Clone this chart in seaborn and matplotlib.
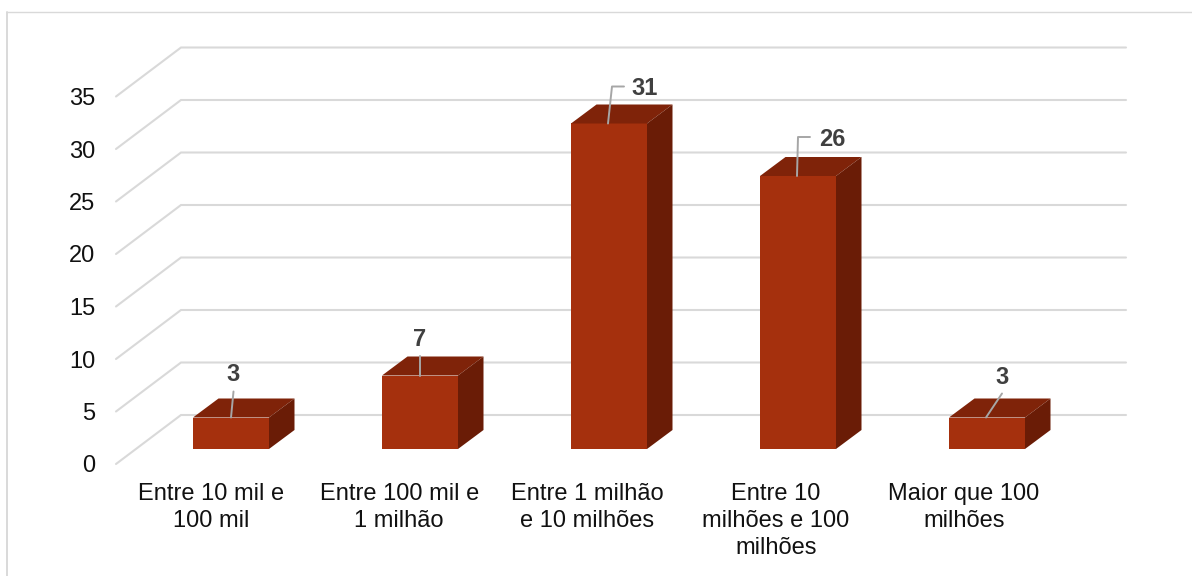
import matplotlib
matplotlib.use("Agg")
import matplotlib.pyplot as plt
from matplotlib.patches import Polygon
from matplotlib.lines import Line2D
import pandas as pd
import seaborn as sns

# Survey counts per size band
categories = [
    "Entre 10 mil e\n100 mil",
    "Entre 100 mil e\n1 milhão",
    "Entre 1 milhão\ne 10 milhões",
    "Entre 10\nmilhões e 100\nmilhões",
    "Maior que 100\nmilhões",
]
values = [3, 7, 31, 26, 3]
y_ticks = [0, 5, 10, 15, 20, 25, 30, 35]

FRONT = "#A5300D"
TOP = "#7F2309"
SIDE = "#6A1C06"
GRID = "#D9D9D9"
LEADER = "#A6A6A6"

W, H = 1192, 576
LEFT, RIGHT, BOTTOM, TOP_PX = 116, 1126, 464, 40   # plot area in pixels
PX_PER_CAT, PX_PER_UNIT = 189.0, 10.5
FIRST_CENTER = 231


def px_x(p):
    return p / PX_PER_CAT


def px_y(p):
    return p / PX_PER_UNIT


sns.set_theme(style="white")
plt.rcParams["font.family"] = ["Liberation Sans", "DejaVu Sans"]

fig = plt.figure(figsize=(W / 100, H / 100), dpi=100, facecolor="white")
ax = fig.add_axes([LEFT / W, 1 - BOTTOM / H, (RIGHT - LEFT) / W, (BOTTOM - TOP_PX) / H])
ax.patch.set_alpha(0)

df = pd.DataFrame({"faixa": categories, "n": values})
base = px_y(15)  # bars stand mid-way across the floor depth
sns.barplot(data=df, x="faixa", y="n", color=FRONT, saturation=1, width=76 / 189,
            bottom=base, ax=ax, zorder=3, linewidth=0)

ax.set_xlim(px_x(LEFT - FIRST_CENTER), px_x(RIGHT - FIRST_CENTER))
ax.set_ylim(0, px_y(BOTTOM - TOP_PX))

# Back wall and side wall gridlines
wall_dx, wall_dy = px_x(65), px_y(49)
x_wall = ax.get_xlim()[0]
x_end = ax.get_xlim()[1]
for t in y_ticks:
    ax.plot([x_wall, x_wall + wall_dx, x_end], [t, t + wall_dy, t + wall_dy],
            color=GRID, lw=1.5, zorder=1, solid_joinstyle="miter", clip_on=False)

# Extruded top and side faces of each bar
half = 38 / 189
bar_dx, bar_dy = px_x(25.5), px_y(19)
for i, v in enumerate(values):
    y0, y1 = base, base + v
    ax.add_patch(Polygon([(i - half, y1), (i + half, y1), (i + half + bar_dx, y1 + bar_dy),
                          (i - half + bar_dx, y1 + bar_dy)], closed=True, fc=TOP, ec="none", zorder=4))
    ax.add_patch(Polygon([(i + half, y0), (i + half + bar_dx, y0 + bar_dy),
                          (i + half + bar_dx, y1 + bar_dy), (i + half, y1)],
                         closed=True, fc=SIDE, ec="none", zorder=4))

# Value labels with leader lines: (pixel offsets from the bar's top-front centre)
leaders = [
    [(0, 0), (2.5, 26)],
    [(0, 0), (0, 20)],
    [(-1, 0), (3, 37), (15, 37)],
    [(-1, 0), (0, 39), (12, 39)],
    [(-1, 0), (15, 24)],
]
label_offsets = [(2, 43), (0, 36), (36, 35), (34, 37), (15, 40)]
for i, v in enumerate(values):
    top = base + v
    xs = [i + px_x(a) for a, _ in leaders[i]]
    ys = [top + px_y(b) for _, b in leaders[i]]
    ax.plot(xs, ys, color=LEADER, lw=1.4, zorder=5)
    ax.text(i + px_x(label_offsets[i][0]), top + px_y(label_offsets[i][1]), str(v),
            ha="center", va="center", fontsize=17, fontweight="bold", color="#404040", zorder=6)

# Axis labels sit on the front edge of the side wall
ax.set_yticks(y_ticks)
ax.set_yticklabels([str(t) for t in y_ticks])
ax.set_xticks([i - px_x(20 + 0.75 * i) for i in range(len(categories))])
ax.set_xticklabels(categories, linespacing=1.27)
ax.set_xlabel("")
ax.set_ylabel("")
ax.tick_params(axis="y", length=0, pad=15, labelsize=17, labelcolor="#111111")
ax.tick_params(axis="x", length=0, pad=14, labelsize=17, labelcolor="#111111")
sns.despine(ax=ax, left=True, bottom=True)
ax.grid(False)

# Chart frame: open on the right and along the bottom
px = fig.transFigure
fig.add_artist(Line2D([7.5 / W, 7.5 / W], [0, 1 - 11.5 / H], color=GRID, lw=1.4, transform=px))
fig.add_artist(Line2D([7.5 / W, 1], [1 - 11.5 / H, 1 - 11.5 / H], color=GRID, lw=1.0, transform=px))

fig.savefig("out.png", dpi=100, facecolor="white")
